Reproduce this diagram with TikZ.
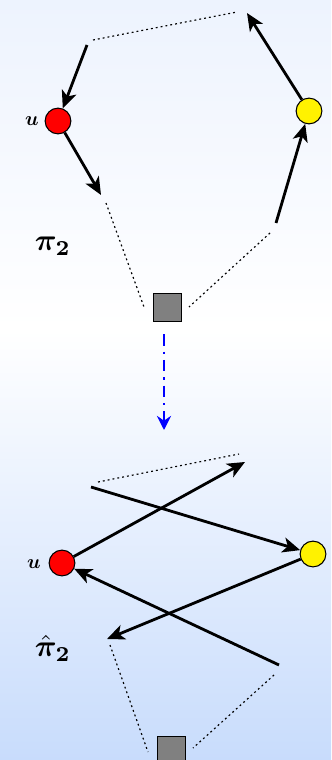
\documentclass[tikz,border=0pt]{standalone}
\usepackage{amsmath,amssymb}
\usepackage{bm}
\usepackage{graphicx}
\usepackage{tikz}
\usepackage{xcolor}
\usetikzlibrary{arrows.meta}

\definecolor{bgtop}{HTML}{EDF3FE}
\definecolor{bgbot}{HTML}{C8DCFC}

\tikzset{
  vtx/.style={circle,draw=black,line width=0.9pt,minimum size=22pt,inner sep=0pt},
  sqbox/.style={rectangle,draw=black,line width=1.1pt,fill=gray,minimum size=24.5pt,inner sep=0pt},
  walk/.style={line width=2.4pt,-{Stealth[length=15pt,width=13pt,inset=4pt]}},
  gap/.style={line width=1pt,dash pattern=on 1.6pt off 2.6pt},
  flow/.style={blue,line width=2pt,dash pattern=on 10pt off 5pt on 2pt off 5pt,
    -{Stealth[length=12pt,width=12pt,inset=4pt]}}
}

\begin{document}
\begin{tikzpicture}[x=0.03cm,y=-0.03cm]
\useasboundingbox (0,0) rectangle (331,760);
\shade[top color=bgtop,bottom color=white] (0,0) rectangle (331,330);
\shade[top color=white,bottom color=bgbot] (0,330) rectangle (331,760);

% upper walk
\node[vtx,fill=red] (u1) at (58,121) {};
\node (lu1) at (32,121) {\scalebox{1.7}{$\bm{u}$}};
\node[vtx,fill=yellow] (y1) at (309,111) {};
\node[sqbox] (s1) at (167.5,307.5) {};
\node (p1) at (53,246) {\scalebox{2.6}{$\bm{\pi}_{\mathbf{2}}$}};
\coordinate (a1) at (87,45);
\coordinate (b1) at (93,40);
\coordinate (c1) at (237,12);
\coordinate (d1) at (247,13);
\coordinate (e1) at (276,223);
\coordinate (f1) at (270,233);
\coordinate (f2) at (189,307);
\coordinate (g1) at (101,195);
\coordinate (h1) at (106,203);
\coordinate (h2) at (144,307);
\draw[walk] (a1) -- (u1);
\draw[walk] (u1) -- (g1);
\draw[walk] (e1) -- (y1);
\draw[walk] (y1) -- (d1);
\draw[gap] (b1) -- (c1);
\draw[gap] (h1) -- (h2);
\draw[gap] (f1) -- (f2);

% transformation
\coordinate (t1) at (164,334);
\coordinate (t2) at (164,430);
\draw[flow] (t1) -- (t2);

% lower walk
\node[vtx,fill=red] (u2) at (62,563) {};
\node (lu2) at (34,564) {\scalebox{1.7}{$\bm{u}$}};
\node[vtx,fill=yellow] (y2) at (313,554) {};
\node[sqbox] (s2) at (171.5,750.5) {};
\node (p2) at (53,648) {\scalebox{2.6}{$\hat{\bm{\pi}}_{\mathbf{2}}$}};
\coordinate (a2) at (91,487);
\coordinate (b2) at (98,482);
\coordinate (c2) at (239,454);
\coordinate (d2) at (245,462);
\coordinate (e2) at (279,665);
\coordinate (f3) at (274,675);
\coordinate (f4) at (193,748);
\coordinate (g2) at (107,639);
\coordinate (h3) at (110,645);
\coordinate (h4) at (148,752);
\draw[walk] (u2) -- (d2);
\draw[walk] (a2) -- (y2);
\draw[walk] (y2) -- (g2);
\draw[walk] (e2) -- (u2);
\draw[gap] (b2) -- (c2);
\draw[gap] (h3) -- (h4);
\draw[gap] (f3) -- (f4);
\end{tikzpicture}
\end{document}
